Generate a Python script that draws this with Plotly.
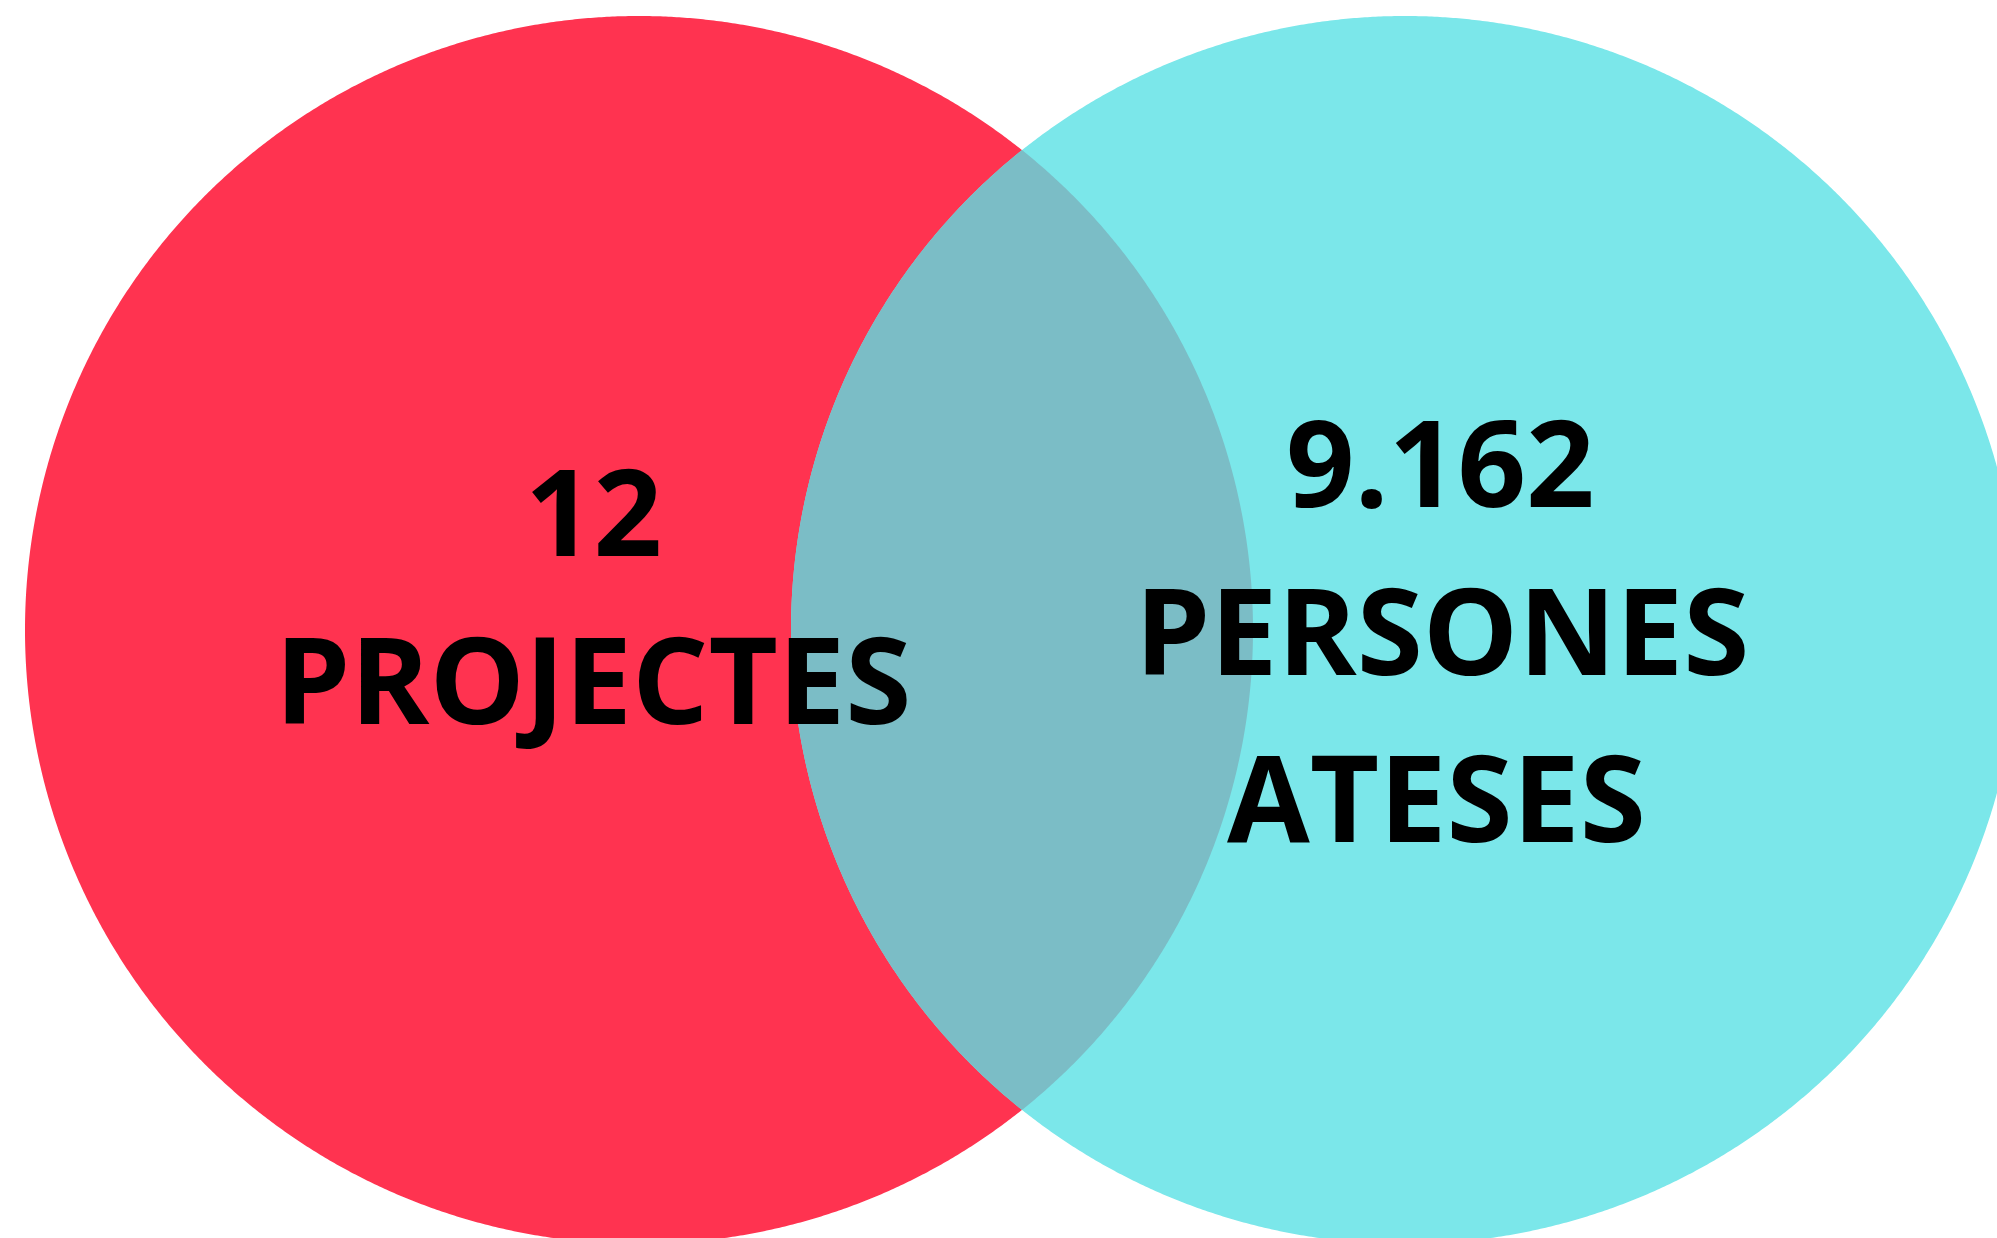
import numpy as np
import plotly.graph_objects as go

# Venn data: two sets and their labels
set_names = ["PROJECTES", "PERSONES ATESES"]
set_values = ["12", "9.162"]
set_colors = ["#FF3350", "#7BE7EA"]
overlap_color = "#7BBDC6"

# circle geometry in page pixels
centers_x = [639, 1405]
centers_y = [630, 630]
radius = 614

W, H = 1997, 1238

fig = go.Figure()

# both circles, drawn as smooth filled outlines
t = np.linspace(0, 2 * np.pi, 1441)
for cx, cy, col in zip(centers_x, centers_y, set_colors):
    fig.add_trace(go.Scatter(x=cx + radius * np.cos(t), y=cy + radius * np.sin(t),
                             mode="lines", fill="toself", fillcolor=col,
                             line=dict(width=0, simplify=False),
                             hoverinfo="skip", showlegend=False))

# overlap lens
d = centers_x[1] - centers_x[0]
half = np.arccos(d / 2 / radius)
t1 = np.linspace(-half, half, 400)
t2 = np.linspace(np.pi - half, np.pi + half, 400)
lx = np.concatenate([centers_x[0] + radius * np.cos(t1), centers_x[1] + radius * np.cos(t2)])
ly = np.concatenate([centers_y[0] + radius * np.sin(t1), centers_y[1] + radius * np.sin(t2)])
fig.add_trace(go.Scatter(x=lx, y=ly, mode="lines", fill="toself",
                         fillcolor=overlap_color, line=dict(width=0, simplify=False),
                         hoverinfo="skip", showlegend=False))

font = dict(family="Open Sans", size=120, color="#000000", weight="bold")

# left set text
left_lines = [set_values[0], set_names[0]]
left_pos = [(593, 509), (593, 677)]
# right set text
right_lines = [set_values[1]] + set_names[1].split(" ")
right_pos = [(1440, 460), (1442, 628), (1436, 795)]

for txt, (x, y) in zip(left_lines + right_lines, left_pos + right_pos):
    fig.add_annotation(x=x, y=y, xref="x", yref="y", text=txt,
                       showarrow=False, font=font,
                       xanchor="center", yanchor="middle")

fig.update_xaxes(range=[0, W], visible=False, fixedrange=True)
fig.update_yaxes(range=[H, 0], visible=False, fixedrange=True)
fig.update_layout(width=W, height=H, margin=dict(l=0, r=0, t=0, b=0),
                  paper_bgcolor="white", plot_bgcolor="white",
                  showlegend=False)

fig.write_html("out.html", config={"displayModeBar": False},
               post_script="document.body.style.margin='0';document.body.style.overflow='hidden';")
